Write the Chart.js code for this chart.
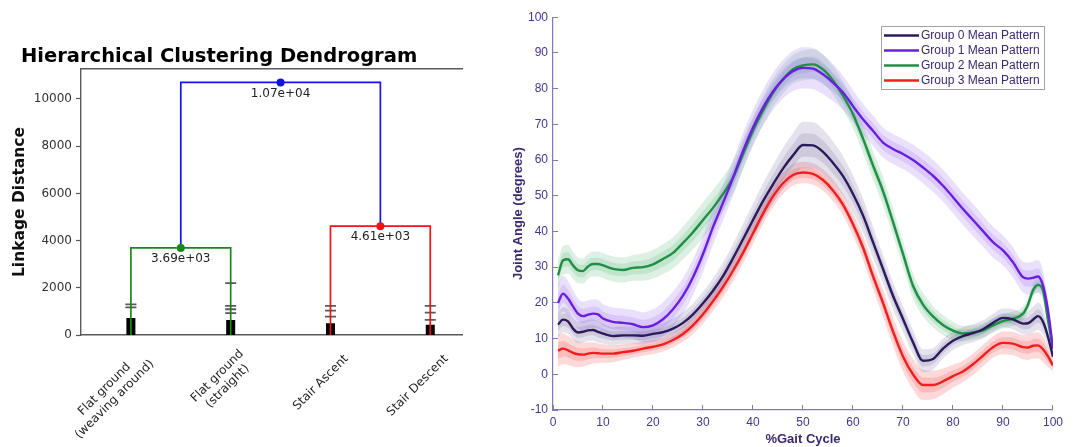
<!DOCTYPE html>
<html>
<head>
<meta charset="utf-8">
<script src="https://cdn.jsdelivr.net/npm/chart.js@4/dist/chart.umd.min.js"></script>
<style>
html,body{margin:0;padding:0;background:#ffffff;width:1073px;height:447px;overflow:hidden;}
#left{position:absolute;left:0;top:0;}
#right{position:absolute;left:490px;top:0;}
</style>
</head>
<body>
<canvas id="left" width="470" height="447"></canvas>
<canvas id="right" width="583" height="447"></canvas>
<script>
// ---------------- LEFT PANEL DATA (dendrogram) ----------------
const leafPositions = [5, 15, 25, 35];
const leafLabels = [['Flat ground', '(weaving around)'], ['Flat ground', '(straight)'], ['Stair Ascent'], ['Stair Descent']];
const linkageTicks = [0, 2000, 4000, 6000, 8000, 10000];
const linkX = [[5, 5, 15, 15], [25, 25, 35, 35], [10, 10, 30, 30]];
const linkY = [[0, 3690, 3690, 0], [0, 4610, 4610, 0], [3690, 10700, 10700, 4610]];
const mergeX = [10, 30, 20];
const mergeY = [3690, 4610, 10700];
const mergeLabels = ['3.69e+03', '4.61e+03', '1.07e+04'];
const stubTops = [720, 640, 500, 430];
const contractionMarks = [[1170, 1300], [930, 1090, 1230, 2200], [780, 1030, 1230], [640, 950, 1230]];

// ---------------- RIGHT PANEL DATA (gait patterns) ----------------
const gaitX = [1,2,3,4,5,6,7,8,9,10,12,14,16,18,20,22,24,26,28,30,32,34,36,38,40,42,44,46,48,50,52,54,56,58,60,62,64,66,68,70,72,74,76,78,80,82,84,86,88,90,92,94,95,96,97,98,99,100];
const group0Mean = [13.9,15.3,14.8,12.8,11.7,11.9,12.3,12.4,11.9,11.4,10.7,10.9,10.9,10.8,11.3,11.8,12.8,14.4,16.8,19.9,23.4,27.5,32.5,37.8,43.2,48.5,53.2,57.6,61.3,64.2,64.1,62.3,59.2,55.5,50.5,44.5,37,29.5,22,15.5,9,3.8,4.3,7.2,9.4,10.7,11.5,12.6,14.4,15.8,15.4,14.2,14.3,15.3,16.3,14.7,10.5,4.9];
const group1Mean = [20,22.6,21.2,19,17,16.3,16.7,17,16.8,15.6,14.7,14.4,14,13.2,13.7,15.4,18.2,22,27.2,33.7,41.2,48,55,62.5,69.1,74.7,79.2,82.6,84.9,85.8,85.6,84,81.7,78.9,75.1,71.4,68.2,64.9,63.1,61.7,60,57.9,55.6,52.8,49.6,46.3,43.2,40.1,37,34.7,31.4,27.2,26.8,27,27.4,24.9,17.9,7.2];
const group2Mean = [27.7,31.9,32.2,30.5,29.1,28.9,30.2,30.9,30.9,30.5,29.5,29.2,29.8,30,30.8,32.3,34,36.8,39.8,43.2,46.6,50.5,55.1,61.6,68.2,73.8,78.8,82.6,85.4,86.5,86.8,85.4,82.3,78,72.8,66,58.5,51.3,42.7,33.7,24.8,19.5,16.2,13.8,12.2,11.4,11.7,12.3,13.7,14.9,15.6,17,19.5,23.5,25,23.5,15.1,7.2];
const group3Mean = [6.6,7.2,6.7,6,5.6,5.5,5.8,6,5.9,5.8,5.8,6.2,6.6,7.2,7.7,8.4,9.6,11.3,13.7,16.8,20.5,24.5,29,34,39.5,45,49.8,53.5,55.8,56.5,56.1,54.4,51.5,47.5,42,35.5,27.5,20,12,5,0,-3,-3,-2,-0.5,0.8,2.8,5.2,7.6,8.8,8.6,7.6,7.5,8,8.1,7,5,2.5];
const group0Spread = [3.5,3.5,3.5,3,3,3,3,3,3,2.8,2.5,2.5,2.5,2.5,2.5,2.5,2.8,3,3,3.2,3.5,3.8,4,4.3,4.6,5,5.4,5.8,6.2,6.5,6.5,6.3,6,5.6,5.2,4.8,4.4,4,3.8,3.6,3.4,3.2,3,2.8,2.6,2.5,2.5,2.5,2.5,2.6,2.8,3,3.3,3.6,3.8,3.5,2.5,1.2];
const group1Spread = [5,5,5,4.5,4.2,4,4,4,4,4,4,4,4,4.2,4.5,4.8,5,5,5,5,5,5,5,5,5,5,5.2,5.4,5.6,5.8,5.8,5.6,5.2,4.8,4.5,4.3,4.2,4.2,4.2,4.2,4.3,4.4,4.5,4.5,4.5,4.5,4.5,4.4,4.3,4.2,4.2,4.3,4.5,4.6,4.6,4.2,3,1.2];
const group2Spread = [4,4,4,3.8,3.6,3.5,3.5,3.5,3.5,3.5,3.5,3.5,3.6,3.8,4,4.2,4.4,4.6,4.8,5,5,4.8,4.5,4.3,4,4,4,4,4,4.2,4.2,4,4,4,4,4,4,4,3.8,3.6,3.5,3.3,3,2.8,2.5,2.2,2,2,2,2,2,2,2,2,2,2,1.6,1];
const group3Spread = [4.5,4.3,4,3.8,3.6,3.4,3.2,3,2.8,2.6,2.4,2.2,2,2,2,2,2,2.2,2.4,2.6,2.8,3,3,3,3,3,3,3,3,3,3,3,3,3,3.2,3.4,3.6,3.8,4,4.2,4.3,4.2,4,3.6,3.2,3,3,3,3,3.2,3.3,3.4,3.5,3.6,3.7,3.6,3,1.5];
const groupNames = ['Group 0 Mean Pattern', 'Group 1 Mean Pattern', 'Group 2 Mean Pattern', 'Group 3 Mean Pattern'];
const gaitTicksX = [0,10,20,30,40,50,60,70,80,90,100];
const angleTicksY = [-10,0,10,20,30,40,50,60,70,80,90,100];

// ---------------- STYLES ----------------
const LEFT_FONT = "'DejaVu Sans', sans-serif";
const RIGHT_FONT = "'Liberation Sans', Arial, sans-serif";
const linkColors = ['#158a15', '#ee1414', '#1212ee'];
const mergeColors = ['#158a15', '#ee1414', '#1212ee'];
const spineColor = '#5a5a5a';
const lineColors = ['#2b1a5c', '#6a1fe0', '#1f8f45', '#f01e1e'];
const bandColors = ['rgba(95,85,140,0.17)', 'rgba(150,100,240,0.2)', 'rgba(60,170,100,0.18)', 'rgba(245,80,80,0.22)'];
const INNER_RATIO = 0.5;
const axisPurple = '#8577bb';
const tickPurple = '#46358a';
const titlePurple = '#3a2870';

// ---------------- LEFT CHART ----------------
const leftDatasets = [];
leafPositions.forEach((lx, i) => {
  leftDatasets.push({
    data: [{x: lx, y: 0}, {x: lx, y: stubTops[i]}],
    borderColor: '#000', borderWidth: 9, borderCapStyle: 'butt',
    pointRadius: 0, tension: 0, order: 4
  });
  leftDatasets.push({
    data: contractionMarks[i].map(v => ({x: lx, y: v})),
    showLine: false, pointStyle: 'line', pointRadius: 5.5,
    pointBorderColor: 'rgba(35,35,35,0.75)', pointBorderWidth: 1.8, order: 3
  });
});
linkX.forEach((xs, i) => {
  leftDatasets.push({
    data: xs.map((x, j) => ({x: x, y: linkY[i][j]})),
    borderColor: linkColors[i], borderWidth: 1.7, pointRadius: 0, tension: 0, order: 1
  });
});
leftDatasets.push({
  data: mergeX.map((x, i) => ({x: x, y: mergeY[i]})),
  showLine: false, pointRadius: 4, pointBorderWidth: 0,
  pointBackgroundColor: mergeColors, pointBorderColor: mergeColors, order: 0
});

const mergeLabelPlugin = {
  id: 'mergeLabels',
  afterDatasetsDraw(chart) {
    const {ctx} = chart;
    const xs = chart.scales.x, ys = chart.scales.y;
    ctx.save();
    ctx.font = '12px ' + LEFT_FONT;
    ctx.fillStyle = '#222';
    ctx.textAlign = 'center';
    ctx.textBaseline = 'middle';
    mergeLabels.forEach((t, i) => {
      ctx.fillText(t, xs.getPixelForValue(mergeX[i]), ys.getPixelForValue(mergeY[i]) + 11);
    });
    ctx.restore();
  }
};

// Center the lines of each rotated multi-line tick label (matplotlib style)
const ANCHOR_DX = 16, ANCHOR_DY = 22;
const rotatedLabelPlugin = {
  id: 'rotatedLabels',
  beforeDraw(chart) {
    const sc = chart.scales.x;
    if (!sc || typeof sc.getLabelItems !== 'function') return;
    const items = sc.getLabelItems();
    const ctx = chart.ctx;
    items.forEach((it, i) => {
      if (!sc.ticks[i] || !it.options) return;
      const lines = Array.isArray(it.label) ? it.label : [it.label];
      ctx.save();
      ctx.font = it.font.string;
      let W = 0;
      lines.forEach(l => { W = Math.max(W, ctx.measureText(l).width); });
      ctx.restore();
      const lh = it.font.lineHeight;
      const rot = it.options.rotation || 0;
      const c = Math.cos(rot), s = Math.sin(rot);
      const fx = W / 2, fy = it.textOffset + (lines.length - 1) * lh / 2;
      const rx = fx * c - fy * s, ry = fx * s + fy * c;
      const px = sc.getPixelForValue(sc.ticks[i].value) + ANCHOR_DX;
      const py = sc.top + ANCHOR_DY;
      it.options.translation = [px - rx, py - ry];
      it.options.textAlign = 'center';
    });
  }
};

new Chart(document.getElementById('left'), {
  type: 'line',
  data: {datasets: leftDatasets},
  plugins: [mergeLabelPlugin, rotatedLabelPlugin],
  options: {
    responsive: false, animation: false, events: [],
    layout: {padding: {left: 21, top: 0, right: 0, bottom: 0}},
    plugins: {
      legend: {display: false}, tooltip: {enabled: false},
      title: {
        display: true, text: 'Hierarchical Clustering Dendrogram', align: 'start',
        color: '#000', font: {family: LEFT_FONT, size: 19.5, weight: 'bold'},
        padding: {top: 45.3, bottom: 0.3}
      }
    },
    scales: {
      x: {
        type: 'linear', min: 0, max: 38.25, position: 'bottom',
        afterBuildTicks: s => { s.ticks = leafPositions.map(v => ({value: v})); },
        afterFit: s => { s.height = 112; },
        ticks: {
          autoSkip: false, minRotation: 45, maxRotation: 45, color: '#222',
          font: {family: LEFT_FONT, size: 12},
          callback: v => leafLabels[leafPositions.indexOf(v)]
        },
        grid: {drawOnChartArea: false, drawTicks: false, color: spineColor},
        border: {color: spineColor, width: 1.4}
      },
      xTop: {
        type: 'linear', min: 0, max: 38.25, position: 'top',
        afterFit: s => { s.height = 0; },
        ticks: {display: false},
        grid: {drawOnChartArea: false, drawTicks: false, color: spineColor},
        border: {color: spineColor, width: 1.4}
      },
      y: {
        type: 'linear', min: 0, max: 11270, position: 'left',
        afterBuildTicks: s => { s.ticks = linkageTicks.map(v => ({value: v})); },
        afterFit: s => { s.width = 60; },
        ticks: {color: '#333', font: {family: LEFT_FONT, size: 12}, padding: 4, callback: v => String(v)},
        grid: {drawOnChartArea: false, drawTicks: true, tickLength: 5, color: spineColor, tickWidth: 1.2},
        border: {color: spineColor, width: 1.4},
        title: {
          display: true, text: 'Linkage Distance', color: '#111',
          font: {family: LEFT_FONT, size: 15.5, weight: 'bold'}, padding: {top: -10, bottom: 0}
        }
      }
    }
  }
});

// ---------------- RIGHT CHART ----------------
const means = [group0Mean, group1Mean, group2Mean, group3Mean];
const spreads = [group0Spread, group1Spread, group2Spread, group3Spread];
const rightDatasets = [];
means.forEach((m, g) => {
  [1, INNER_RATIO].forEach(r => {
    rightDatasets.push({
      data: gaitX.map((x, i) => ({x: x, y: m[i] + spreads[g][i] * r})),
      borderWidth: 0, pointRadius: 0, cubicInterpolationMode: 'monotone',
      backgroundColor: bandColors[g], fill: {target: '+1'}, order: 2
    });
    rightDatasets.push({
      data: gaitX.map((x, i) => ({x: x, y: m[i] - spreads[g][i] * r})),
      borderWidth: 0, pointRadius: 0, cubicInterpolationMode: 'monotone',
      fill: false, order: 2
    });
  });
});
means.forEach((m, g) => {
  rightDatasets.push({
    label: groupNames[g], isMean: true,
    data: gaitX.map((x, i) => ({x: x, y: m[i]})),
    borderColor: lineColors[g], borderWidth: 2.4, pointRadius: 0,
    cubicInterpolationMode: 'monotone', fill: false, order: 0
  });
});

const boxLegendPlugin = {
  id: 'boxLegend',
  afterDraw(chart) {
    const {ctx} = chart;
    const items = chart.data.datasets.filter(d => d.isMean);
    const bx = 391, by = 26, bw = 163, bh = 63;
    ctx.save();
    ctx.fillStyle = '#fff';
    ctx.fillRect(bx, by, bw, bh);
    ctx.strokeStyle = '#a3a3a3';
    ctx.lineWidth = 1;
    ctx.strokeRect(bx + 0.5, by + 0.5, bw, bh);
    ctx.font = '12px ' + RIGHT_FONT;
    ctx.textBaseline = 'middle';
    ctx.textAlign = 'left';
    items.forEach((d, i) => {
      const yy = by + 9.5 + i * 15;
      ctx.strokeStyle = d.borderColor;
      ctx.lineWidth = 2.4;
      ctx.beginPath();
      ctx.moveTo(bx + 3, yy);
      ctx.lineTo(bx + 38, yy);
      ctx.stroke();
      ctx.fillStyle = titlePurple;
      ctx.fillText(d.label, bx + 40, yy);
    });
    ctx.restore();
  }
};

new Chart(document.getElementById('right'), {
  type: 'line',
  data: {datasets: rightDatasets},
  plugins: [boxLegendPlugin],
  options: {
    responsive: false, animation: false, events: [],
    layout: {padding: {left: 0, top: 16, right: 20, bottom: 0}},
    plugins: {legend: {display: false}, tooltip: {enabled: false}, title: {display: false}},
    scales: {
      x: {
        type: 'linear', min: 0, max: 100, position: 'bottom',
        afterBuildTicks: s => { s.ticks = gaitTicksX.map(v => ({value: v})); },
        afterFit: s => { s.height = 37; },
        ticks: {color: tickPurple, font: {family: RIGHT_FONT, size: 12}, padding: 10, maxRotation: 0, autoSkip: false},
        grid: {drawOnChartArea: false, drawTicks: true, tickLength: -5, color: axisPurple},
        border: {color: axisPurple, width: 1.2},
        title: {display: true, text: '%Gait Cycle', color: titlePurple, font: {family: RIGHT_FONT, size: 13, weight: 'bold'}, padding: {top: 0, bottom: 0}}
      },
      y: {
        type: 'linear', min: -10, max: 100, position: 'left',
        afterBuildTicks: s => { s.ticks = angleTicksY.map(v => ({value: v})); },
        afterFit: s => { s.width = 63; },
        ticks: {color: tickPurple, font: {family: RIGHT_FONT, size: 12}, padding: 10},
        grid: {drawOnChartArea: false, drawTicks: true, tickLength: -5, color: axisPurple},
        border: {color: axisPurple, width: 1.2},
        title: {display: true, text: 'Joint Angle (degrees)', color: titlePurple, font: {family: RIGHT_FONT, size: 13, weight: 'bold'}, padding: {top: 21, bottom: 0}}
      }
    }
  }
});
</script>
</body>
</html>
